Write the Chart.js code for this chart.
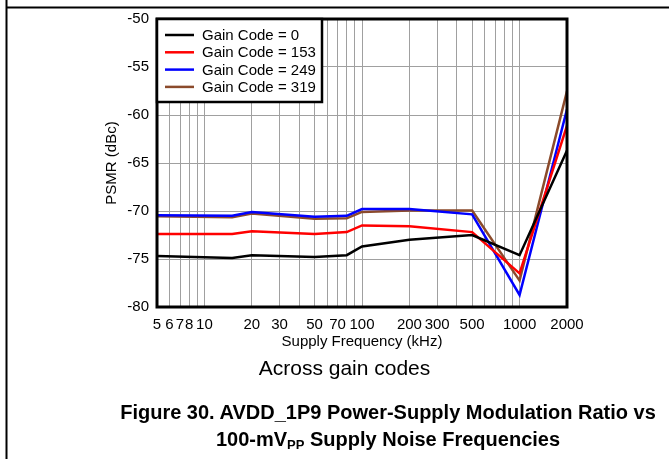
<!DOCTYPE html>
<html>
<head>
<meta charset="utf-8">
<script src="https://cdn.jsdelivr.net/npm/chart.js@4"></script>
<style>
  body { margin: 0; background: #fff; font-family: "Liberation Sans", Arial, sans-serif; }
  #wrap { position: relative; width: 669px; height: 459px; overflow: hidden; }
  #canvasPsmr { position: absolute; left: 0; top: 0; }
  .caption { position: absolute; left: 0; width: 669px; text-align: center; color: #000; white-space: nowrap; box-sizing: border-box; }
  #subCap { top: 356px; font-size: 21px; line-height: 24px; padding-left: 20px; }
  #figCap { top: 399px; font-size: 20px; font-weight: bold; line-height: 27px; padding-left: 107px; }
  #figCap span { display: block; }
  #figCap sub { font-size: 13px; vertical-align: -3px; line-height: 0; }
</style>
</head>
<body>
<div id="wrap">
  <canvas id="canvasPsmr" width="669" height="459"></canvas>
  <div class="caption" id="subCap">Across gain codes</div>
  <div class="caption" id="figCap">
    <span>Figure 30. AVDD_1P9 Power-Supply Modulation Ratio vs</span>
    <span>100-mV<sub>PP</sub> Supply Noise Frequencies</span>
  </div>
</div>
<script>
// supply frequency in kHz
var freqKHz = [5, 15, 20, 50, 80, 100, 200, 500, 1000, 2000];

// PSMR in dBc
var gain0   = [-74.7, -74.9, -74.6, -74.8, -74.6, -73.7, -73.0, -72.5, -74.6, -63.7];
var gain153 = [-72.4, -72.4, -72.1, -72.4, -72.2, -71.5, -71.6, -72.2, -76.5, -61.1];
var gain249 = [-70.45, -70.5, -70.1, -70.6, -70.5, -69.8, -69.8, -70.35, -78.75, -59.4];
var gain319 = [-70.55, -70.65, -70.25, -70.8, -70.75, -70.1, -69.95, -69.95, -77.25, -57.5];

var seriesLabels = ["Gain Code = 0", "Gain Code = 153", "Gain Code = 249", "Gain Code = 319"];

// x gridlines and the ones that get a label
var xGrid = [5, 6, 7, 8, 9, 10, 20, 30, 40, 50, 60, 70, 80, 90, 100,
             200, 300, 400, 500, 600, 700, 800, 900, 1000, 2000];
var xLabeled = [5, 6, 7, 8, 10, 20, 30, 50, 70, 100, 200, 300, 500, 1000, 2000];

var fontFam = "'Liberation Sans', Arial, sans-serif";

function makeSet(label, values, color) {
  var pts = [];
  for (var i = 0; i < freqKHz.length; i++) {
    pts.push({ x: freqKHz[i], y: values[i] });
  }
  return {
    label: label,
    data: pts,
    borderColor: color,
    backgroundColor: color,
    borderWidth: 2.5,
    pointRadius: 0,
    tension: 0,
    fill: false
  };
}

// frame, plot border and the boxed legend
var decorPlugin = {
  id: "decor",
  afterDraw: function(chart) {
    var ctx = chart.ctx;
    var a = chart.chartArea;
    ctx.save();
    // page frame
    ctx.strokeStyle = "#000";
    ctx.lineWidth = 2;
    ctx.beginPath();
    ctx.moveTo(6.5, 0);
    ctx.lineTo(6.5, 459);
    ctx.moveTo(6.5, 7.5);
    ctx.lineTo(669, 7.5);
    ctx.stroke();

    // plot border
    ctx.lineWidth = 3;
    ctx.strokeRect(a.left, a.top, a.right - a.left, a.bottom - a.top);

    // legend box
    var lx = a.left, ly = a.top, lw = 165, lh = 83;
    ctx.fillStyle = "#fff";
    ctx.fillRect(lx, ly, lw, lh);
    ctx.lineWidth = 2.5;
    ctx.strokeRect(lx, ly, lw, lh);
    ctx.font = "15px " + fontFam;
    ctx.textBaseline = "middle";
    var sets = chart.data.datasets;
    for (var i = 0; i < sets.length; i++) {
      var y = ly + 16 + i * 17.3;
      ctx.strokeStyle = sets[i].borderColor;
      ctx.lineWidth = 2.5;
      ctx.beginPath();
      ctx.moveTo(lx + 8, y);
      ctx.lineTo(lx + 37, y);
      ctx.stroke();
      ctx.fillStyle = "#000";
      ctx.fillText(sets[i].label, lx + 45, y + 1);
    }
    ctx.restore();
  }
};

var psmrConfig = {
  type: "line",
  data: {
    datasets: [
      makeSet(seriesLabels[0], gain0, "#000000"),
      makeSet(seriesLabels[1], gain153, "#ff0000"),
      makeSet(seriesLabels[2], gain249, "#0000ff"),
      makeSet(seriesLabels[3], gain319, "#8b4a2b")
    ]
  },
  options: {
    responsive: false,
    animation: false,
    layout: { padding: { left: 97, top: 19, right: 102, bottom: 107 } },
    plugins: {
      legend: { display: false },
      tooltip: { enabled: false }
    },
    scales: {
      x: {
        type: "logarithmic",
        min: 5,
        max: 2000,
        afterBuildTicks: function(scale) {
          scale.ticks = xGrid.map(function(v) { return { value: v }; });
        },
        afterFit: function(scale) { scale.height = 45; },
        grid: { color: "#a0a0a0", lineWidth: 1, drawTicks: false },
        border: { display: false },
        ticks: {
          autoSkip: false,
          maxRotation: 0,
          padding: 9,
          color: "#000",
          font: { family: fontFam, size: 15 },
          callback: function(value) {
            return xLabeled.indexOf(value) >= 0 ? String(value) : "";
          }
        },
        title: {
          display: true,
          text: "Supply Frequency (kHz)",
          color: "#000",
          font: { family: fontFam, size: 15 },
          padding: { top: 0, bottom: 1 }
        }
      },
      y: {
        min: -80,
        max: -50,
        afterFit: function(scale) { scale.width = 60; },
        grid: { color: "#a0a0a0", lineWidth: 1, drawTicks: false },
        border: { display: false },
        ticks: {
          stepSize: 5,
          padding: 8,
          color: "#000",
          font: { family: fontFam, size: 15 }
        },
        title: {
          display: true,
          text: "PSMR (dBc)",
          color: "#000",
          font: { family: fontFam, size: 15 },
          padding: { top: 6, bottom: 0 }
        }
      }
    }
  },
  plugins: [decorPlugin]
};

var psmrChart = new Chart(document.getElementById("canvasPsmr"), psmrConfig);
</script>
</body>
</html>
